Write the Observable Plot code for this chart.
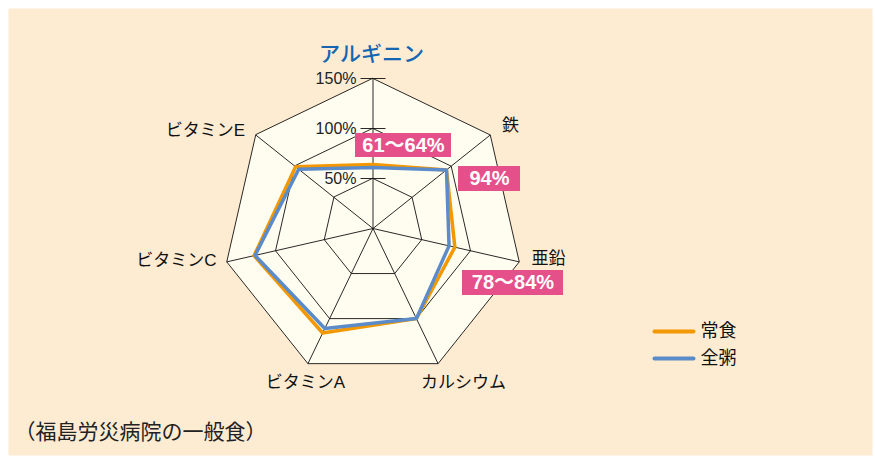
<!DOCTYPE html>
<html><head><meta charset="utf-8">
<script src="https://cdn.jsdelivr.net/npm/d3@7"></script>
<script src="https://cdn.jsdelivr.net/npm/@observablehq/plot@0.6"></script>
<style>body{margin:0;background:#fff}</style>
</head><body><div id="chart"></div>
<script>
// ---- data ----
const axes = ["アルギニン", "鉄", "亜鉛", "カルシウム", "ビタミンA", "ビタミンC", "ビタミンE"];
const jouShoku = [64, 94, 84, 100, 116, 122, 99];   // 常食
const zenGayu  = [61, 94, 78, 100, 111, 121, 95];   // 全粥
const seriesNames = ["常食", "全粥"];
const rings = [50, 100, 150];
const ringLabels = ["50%", "100%", "150%"];
const notes = ["61～64%", "94%", "78～84%"];
const caption = "（福島労災病院の一般食）";

// ---- layout (plot units: 1 unit = 1% = 1px, origin at chart centre, y up) ----
const colors = {orange: "#F39800", blue: "#5B8BC9", pink: "#E5508A", peach: "#FDEBD2", cream: "#FFFDF0", title: "#1466B3"};
const labelPos = [[-1.5, 174], [137.5, 103], [175.5, -30], [90.5, -154], [-67.5, -154], [-196.5, -32], [-167.5, 98]];
const noteBox = [[-17.5, 78.5, 71, 95], [85.5, 147.5, 37, 62], [89.5, 190.5, -67, -42]];
const legendPos = {x1: 281.5, x2: 320.5, tx: 327.5, ys: [-103, -130]};
const captionPos = [-358.5, -204];

const n = axes.length;
const ang = i => i * 2 * Math.PI / n;
const pt = (r, i) => ({x: r * Math.sin(ang(i)), y: r * Math.cos(ang(i))});

const ringPts = rings.flatMap(r => axes.map((a, i) => ({...pt(r, i), ring: r})));
const spokes = axes.map((a, i) => ({...pt(150, i)}));
const seriesPts = [jouShoku, zenGayu].flatMap((vals, s) => vals.map((v, i) => ({...pt(v, i), s: seriesNames[s]})));
const outer = axes.map((a, i) => pt(150, i));
const notesData = notes.map((t, k) => ({t, x1: noteBox[k][0], x2: noteBox[k][1], y1: noteBox[k][2], y2: noteBox[k][3]}));
const labelData = axes.map((a, i) => ({t: a, x: labelPos[i][0], y: labelPos[i][1], first: i === 0}));
const legendData = seriesNames.map((s, k) => ({s, y: legendPos.ys[k]}));

const font = "'Liberation Sans', 'Noto Sans CJK JP', sans-serif";

const chart = Plot.plot({
  width: 875, height: 457,
  margin: 0,
  x: {domain: [-372.5, 502.5], range: [0, 875], axis: null},
  y: {domain: [228, -229], range: [0, 457], axis: null},
  style: {fontFamily: font, background: "#fff", overflow: "visible"},
  marks: [
    Plot.frame({fill: colors.peach, stroke: null, insetLeft: 8, insetTop: 8, insetRight: 3, insetBottom: 2}),
    Plot.line(outer, {x: "x", y: "y", curve: "linear-closed", fill: colors.cream, stroke: "none"}),
    Plot.line(ringPts, {x: "x", y: "y", z: "ring", curve: "linear-closed", stroke: "#111", strokeWidth: 0.9}),
    Plot.link(spokes, {x1: 0, y1: 0, x2: "x", y2: "y", stroke: "#111", strokeWidth: 0.9}),
    Plot.link(rings, {x1: -12.5, x2: 12.5, y1: d => d, y2: d => d, stroke: "#111", strokeWidth: 0.9}),
    Plot.text(rings, {x: -16.5, y: d => d, text: (d, i) => ringLabels[i], textAnchor: "end", fontSize: 16, fill: "#222"}),
    Plot.line(seriesPts, {x: "x", y: "y", z: "s", curve: "linear-closed", stroke: d => d.s === seriesNames[0] ? colors.orange : colors.blue, strokeWidth: 3.5, strokeLinejoin: "miter"}),
    Plot.rect(notesData, {x1: "x1", x2: "x2", y1: "y1", y2: "y2", fill: colors.pink}),
    Plot.text(notesData, {x: d => (d.x1 + d.x2) / 2, y: d => (d.y1 + d.y2) / 2, text: "t", fill: "white", fontWeight: "bold", fontSize: 20}),
    Plot.text(labelData.filter(d => !d.first), {x: "x", y: "y", text: "t", fontSize: 17, fill: "#111"}),
    Plot.text(labelData.filter(d => d.first), {x: "x", y: "y", text: "t", fontSize: 21, fill: colors.title, fontWeight: 500}),
    Plot.link(legendData, {x1: legendPos.x1, x2: legendPos.x2, y1: "y", y2: "y", stroke: d => d.s === seriesNames[0] ? colors.orange : colors.blue, strokeWidth: 4, strokeLinecap: "round"}),
    Plot.text(legendData, {x: legendPos.tx, y: "y", text: "s", textAnchor: "start", fontSize: 18, fill: "#111"}),
    Plot.text([caption], {x: captionPos[0], y: captionPos[1], text: d => d, textAnchor: "start", fontSize: 21, fill: "#222"})
  ]
});
document.getElementById("chart").appendChild(chart);
</script>
</body></html>
